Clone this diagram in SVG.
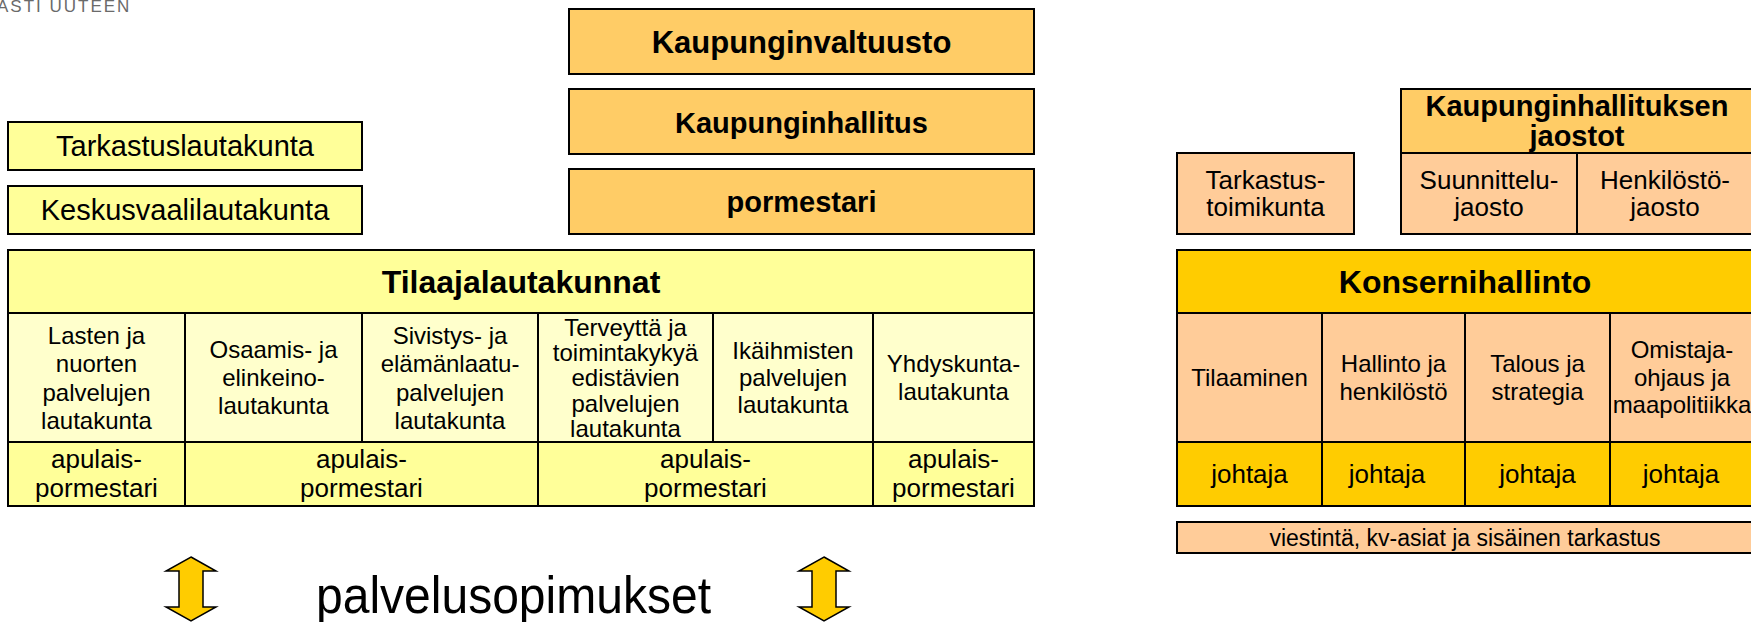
<svg xmlns="http://www.w3.org/2000/svg" width="1751" height="622" viewBox="0 0 1751 622">
<style>
text{font-family:"Liberation Sans",Arial,sans-serif;fill:#000;text-anchor:middle}
.b{font-weight:bold}
.box{stroke:#000;stroke-width:2}
.y1{fill:#FFFF99}
.y2{fill:#FFFFCC}
.or{fill:#FFCC66}
.pe{fill:#FFCC99}
.go{fill:#FFCC00}
.f24{font-size:24px}
.f26{font-size:26px}
.f29{font-size:29px}
.f32{font-size:32px}
.arr{fill:#FFCC00;stroke:#000;stroke-width:1.5;stroke-linejoin:miter}
</style>
<rect width="1751" height="622" fill="#fff"/>
<text x="-3" y="12" style="font-size:17px;letter-spacing:2px;fill:#6a6a6a;text-anchor:start">ASTI UUTEEN</text>

<g id="kaupunginvaltuusto">
<rect class="box or" x="569" y="9" width="465" height="65"/>
<text class="b" x="801.5" y="53" style="font-size:31px">Kaupunginvaltuusto</text>
</g>
<g id="kaupunginhallitus">
<rect class="box or" x="569" y="89" width="465" height="65"/>
<text class="b f29" x="801.5" y="133">Kaupunginhallitus</text>
</g>
<g id="pormestari">
<rect class="box or" x="569" y="169" width="465" height="65"/>
<text class="b f29" x="801.5" y="212">pormestari</text>
</g>

<g id="tarkastuslautakunta">
<rect class="box y1" x="8" y="122" width="354" height="48"/>
<text class="f29" x="185" y="156">Tarkastuslautakunta</text>
</g>
<g id="keskusvaalilautakunta">
<rect class="box y1" x="8" y="186" width="354" height="48"/>
<text class="f29" x="185" y="220">Keskusvaalilautakunta</text>
</g>

<g id="tilaajalautakunnat">
<rect class="box y1" x="8" y="250" width="1026" height="63"/>
<text class="b f32" x="521" y="293">Tilaajalautakunnat</text>
<rect class="box y2" x="8" y="313" width="177" height="129"/>
<rect class="box y2" x="185" y="313" width="177" height="129"/>
<rect class="box y2" x="362" y="313" width="176" height="129"/>
<rect class="box y2" x="538" y="313" width="175" height="129"/>
<rect class="box y2" x="713" y="313" width="160" height="129"/>
<rect class="box y2" x="873" y="313" width="161" height="129"/>
<text class="f24"><tspan x="96.5" y="344">Lasten ja</tspan><tspan x="96.5" y="372">nuorten</tspan><tspan x="96.5" y="401">palvelujen</tspan><tspan x="96.5" y="429">lautakunta</tspan></text>
<text class="f24"><tspan x="273.5" y="358">Osaamis- ja</tspan><tspan x="273.5" y="386">elinkeino-</tspan><tspan x="273.5" y="414">lautakunta</tspan></text>
<text class="f24"><tspan x="450" y="344">Sivistys- ja</tspan><tspan x="450" y="372">elämänlaatu-</tspan><tspan x="450" y="401">palvelujen</tspan><tspan x="450" y="429">lautakunta</tspan></text>
<text class="f24"><tspan x="625.5" y="336">Terveyttä ja</tspan><tspan x="625.5" y="361">toimintakykyä</tspan><tspan x="625.5" y="386">edistävien</tspan><tspan x="625.5" y="412">palvelujen</tspan><tspan x="625.5" y="437">lautakunta</tspan></text>
<text class="f24"><tspan x="793" y="359">Ikäihmisten</tspan><tspan x="793" y="386">palvelujen</tspan><tspan x="793" y="413">lautakunta</tspan></text>
<text class="f24"><tspan x="953.5" y="372">Yhdyskunta-</tspan><tspan x="953.5" y="400">lautakunta</tspan></text>
<rect class="box y1" x="8" y="442" width="177" height="64"/>
<rect class="box y1" x="185" y="442" width="353" height="64"/>
<rect class="box y1" x="538" y="442" width="335" height="64"/>
<rect class="box y1" x="873" y="442" width="161" height="64"/>
<text class="f26"><tspan x="96.5" y="468">apulais-</tspan><tspan x="96.5" y="497">pormestari</tspan></text>
<text class="f26"><tspan x="361.5" y="468">apulais-</tspan><tspan x="361.5" y="497">pormestari</tspan></text>
<text class="f26"><tspan x="705.5" y="468">apulais-</tspan><tspan x="705.5" y="497">pormestari</tspan></text>
<text class="f26"><tspan x="953.5" y="468">apulais-</tspan><tspan x="953.5" y="497">pormestari</tspan></text>
</g>

<g id="tarkastustoimikunta">
<rect class="box pe" x="1177" y="153" width="177" height="81"/>
<text class="f26"><tspan x="1265.5" y="189">Tarkastus-</tspan><tspan x="1265.5" y="216">toimikunta</tspan></text>
</g>

<g id="jaostot">
<rect class="box or" x="1401" y="89" width="354" height="64"/>
<text class="b f29"><tspan x="1577" y="116">Kaupunginhallituksen</tspan><tspan x="1577" y="146">jaostot</tspan></text>
<rect class="box pe" x="1401" y="153" width="176" height="81"/>
<rect class="box pe" x="1577" y="153" width="178" height="81"/>
<text class="f26"><tspan x="1489" y="189">Suunnittelu-</tspan><tspan x="1489" y="216">jaosto</tspan></text>
<text class="f26"><tspan x="1665" y="189">Henkilöstö-</tspan><tspan x="1665" y="216">jaosto</tspan></text>
</g>

<g id="konsernihallinto">
<rect class="box go" x="1177" y="250" width="580" height="63"/>
<text class="b f32" x="1465" y="293">Konsernihallinto</text>
<rect class="box pe" x="1177" y="313" width="145" height="129"/>
<rect class="box pe" x="1322" y="313" width="143" height="129"/>
<rect class="box pe" x="1465" y="313" width="145" height="129"/>
<rect class="box pe" x="1610" y="313" width="147" height="129"/>
<text class="f24" x="1249.5" y="386">Tilaaminen</text>
<text class="f24"><tspan x="1393.5" y="372">Hallinto ja</tspan><tspan x="1393.5" y="400">henkilöstö</tspan></text>
<text class="f24"><tspan x="1537.5" y="372">Talous ja</tspan><tspan x="1537.5" y="400">strategia</tspan></text>
<text class="f24"><tspan x="1682" y="358">Omistaja-</tspan><tspan x="1682" y="386">ohjaus ja</tspan><tspan x="1682" y="413">maapolitiikka</tspan></text>
<rect class="box go" x="1177" y="442" width="145" height="64"/>
<rect class="box go" x="1322" y="442" width="143" height="64"/>
<rect class="box go" x="1465" y="442" width="145" height="64"/>
<rect class="box go" x="1610" y="442" width="147" height="64"/>
<text class="f26" x="1249.5" y="483">johtaja</text>
<text class="f26" x="1387" y="483">johtaja</text>
<text class="f26" x="1537.5" y="483">johtaja</text>
<text class="f26" x="1681" y="483">johtaja</text>
</g>

<g id="viestinta">
<rect class="box pe" x="1177" y="522" width="580" height="31"/>
<text x="1465" y="546" style="font-size:23px">viestintä, kv-asiat ja sisäinen tarkastus</text>
</g>

<g id="connectors">
<path class="arr" d="M191,557 L216,571 L203,571 L203,607 L216,607 L191,621 L166,607 L179,607 L179,571 L166,571 Z"/>
<path class="arr" d="M824,557 L849,571 L836,571 L836,607 L849,607 L824,621 L799,607 L812,607 L812,571 L799,571 Z"/>
</g>
<g id="palvelusopimukset">
<text x="513.5" y="613" textLength="395" lengthAdjust="spacingAndGlyphs" style="font-size:52px">palvelusopimukset</text>
</g>
</svg>
